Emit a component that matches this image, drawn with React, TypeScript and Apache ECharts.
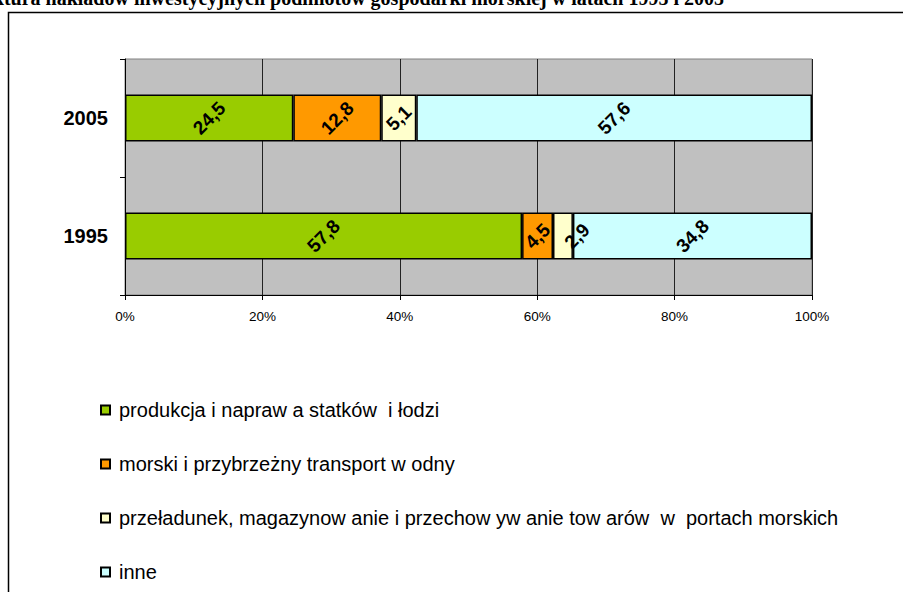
import React, { useEffect, useRef } from "react";
import * as echarts from "echarts";

const years = ["1995", "2005"];
const seriesNames = [
  "produkcja i napraw a statków  i łodzi",
  "morski i przybrzeżny transport w odny",
  "przeładunek, magazynow anie i przechow yw anie tow arów  w  portach morskich",
  "inne",
];
const produkcja = [57.8, 24.5];
const transport = [4.5, 12.8];
const przeladunek = [2.9, 5.1];
const inne = [34.8, 57.6];
const xTicks = [0, 20, 40, 60, 80, 100];
const colors = ["#99CC00", "#FF9900", "#FFFFCC", "#CCFFFF"];
const titleText =
  "Struktura nakładów inwestycyjnych podmiotów gospodarki morskiej w latach 1995 i 2005";

export default function App() {
  const ref = useRef<HTMLDivElement>(null);
  useEffect(() => {
    if (!ref.current) return;
    const chart = echarts.init(ref.current, undefined, { renderer: "svg" });
    const values = [produkcja, transport, przeladunek, inne];
    const fmt = (p: any) => String(p.value).replace(".", ",");
    const series = values.map((vals, i) => ({
      name: seriesNames[i],
      type: "bar",
      stack: "total",
      barWidth: "40%",
      itemStyle: { color: colors[i], borderColor: "#000", borderWidth: 1.5 },
      label: {
        show: true,
        position: "inside",
        rotate: 45,
        formatter: fmt,
        color: "#000",
        fontSize: 19,
        fontWeight: "bold",
        fontFamily: "Liberation Sans, Arial, sans-serif",
      },
      data: vals.map((v, j) =>
        i === 2 && j === 0 ? { value: v, label: { offset: [10, 10] } } : v
      ),
    }));
    chart.setOption({
      animation: false,
      backgroundColor: "#fff",
      grid: {
        left: 125,
        top: 59,
        width: 687,
        height: 236,
        show: true,
        backgroundColor: "#C0C0C0",
        borderColor: "#808080",
        borderWidth: 1,
      },
      xAxis: {
        type: "value",
        min: xTicks[0],
        max: xTicks[xTicks.length - 1],
        interval: 20,
        axisLine: { show: true, lineStyle: { color: "#000", width: 1 } },
        axisTick: { show: true, length: 5, lineStyle: { color: "#000" } },
        axisLabel: {
          formatter: "{value}%",
          color: "#000",
          fontSize: 13.5,
          margin: 14,
          fontFamily: "Liberation Sans, Arial, sans-serif",
        },
        splitLine: { show: true, lineStyle: { color: "#222", width: 1 } },
      },
      yAxis: {
        type: "category",
        data: years,
        axisLine: { show: true, lineStyle: { color: "#000", width: 1 } },
        axisTick: { show: true, length: 5, lineStyle: { color: "#000" } },
        axisLabel: {
          color: "#000",
          fontSize: 20,
          fontWeight: "bold",
          margin: 17,
          fontFamily: "Liberation Sans, Arial, sans-serif",
        },
        splitLine: { show: false },
      },
      legend: {
        orient: "vertical",
        left: 95,
        top: 395,
        itemGap: 34,
        itemWidth: 9,
        itemHeight: 9,
        icon: "rect",
        data: seriesNames,
        textStyle: {
          color: "#000",
          fontSize: 20,
          fontFamily: "Liberation Sans, Arial, sans-serif",
          padding: [0, 0, 0, 4],
        },
      },
      graphic: [
        {
          type: "rect",
          shape: { x: 8.5, y: 12.5, width: 1200, height: 1200 },
          style: { fill: "none", stroke: "#000", lineWidth: 1.5 },
          silent: true,
        },
        {
          type: "text",
          x: -45,
          y: 8,
          style: {
            text: titleText,
            font: "bold 20px 'Liberation Serif', 'Times New Roman', serif",
            fill: "#000",
            verticalAlign: "bottom",
          },
          silent: true,
        },
      ],
      series,
    });
    return () => chart.dispose();
  }, []);
  return (
    <div
      ref={ref}
      style={{ position: "fixed", left: 0, top: 0, width: 903, height: 592 }}
    />
  );
}
